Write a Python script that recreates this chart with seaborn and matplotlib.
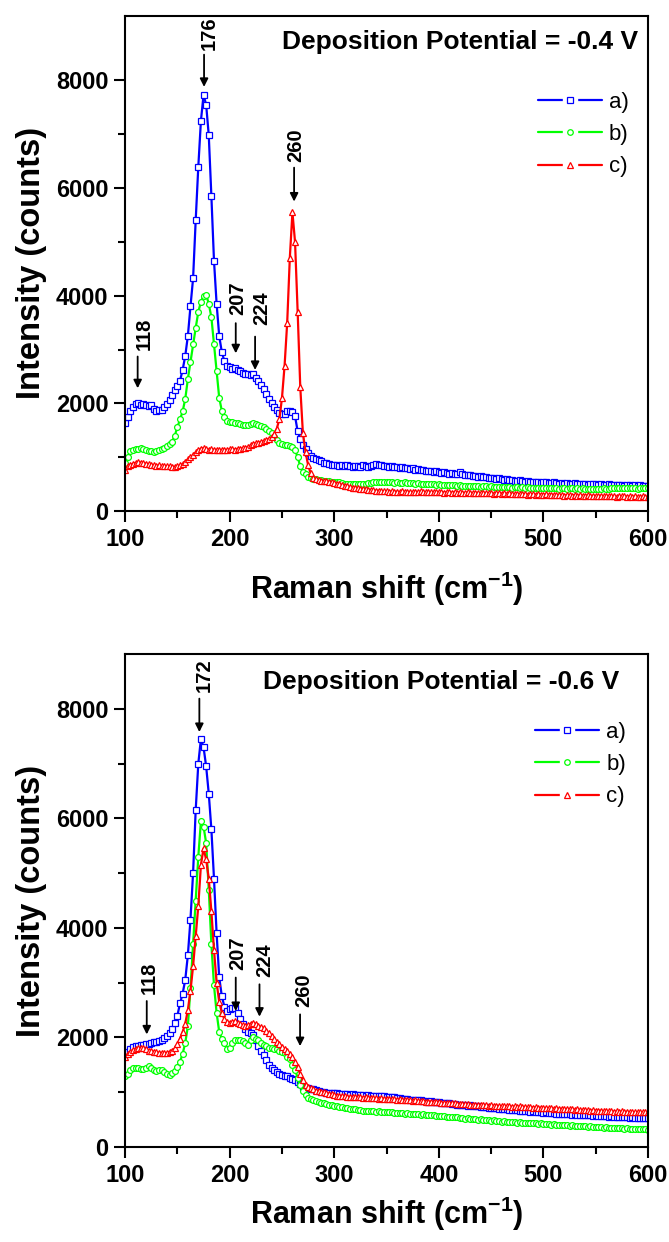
import numpy as np
import pandas as pd
import matplotlib
matplotlib.use("Agg")
import matplotlib.pyplot as plt
import seaborn as sns
from matplotlib.lines import Line2D
from matplotlib.legend_handler import HandlerTuple

# Raman shift sampling grid (cm^-1), 2.5 cm^-1 steps from 100 to 600
raman_shift = np.arange(100.0, 600.1, 2.5)

# ---------------- Panel 1 : deposition potential -0.4 V ----------------
top_a = [
    1640, 1750, 1850, 1930, 1990, 2000, 1960, 1990, 1970, 1950,
    1960, 1900, 1860, 1880, 1870, 1930, 1990, 2060, 2150, 2250,
    2330, 2420, 2620, 2880, 3250, 3800, 4320, 5400, 6400, 7250,
    7730, 7550, 6980, 5850, 4650, 3850, 3250, 2950, 2780, 2700,
    2680, 2640, 2660, 2620, 2600, 2560, 2540, 2550, 2530, 2540,
    2480, 2420, 2350, 2260, 2180, 2080, 2010, 1930, 1880, 1820,
    1800, 1810, 1850, 1860, 1830, 1760, 1480, 1340, 1230, 1160,
    1080, 1020, 980, 960, 950, 930, 900, 890, 880, 860,
    860, 850, 840, 855, 830, 845, 835, 820, 840, 830,
    825, 845, 830, 820, 835, 850, 870, 860, 845, 840,
    835, 820, 830, 815, 810, 800, 815, 790, 800, 785,
    790, 770, 780, 760, 765, 750, 740, 745, 730, 735,
    720, 710, 725, 700, 690, 700, 680, 690, 720, 680,
    670, 660, 665, 650, 655, 640, 645, 630, 640, 620,
    615, 620, 600, 610, 590, 580, 595, 575, 570, 565,
    560, 570, 550, 545, 560, 540, 535, 545, 530, 525,
    530, 540, 525, 520, 530, 515, 510, 525, 505, 515,
    510, 500, 515, 495, 510, 500, 505, 490, 505, 495,
    500, 485, 495, 490, 480, 495, 485, 475, 490, 480,
    485, 470, 480, 475, 465, 480, 470, 475, 460, 470,
    465,
]
top_b = [
    890, 1010, 1110, 1140, 1150, 1160, 1166, 1150, 1135, 1120,
    1105, 1100, 1110, 1135, 1150, 1170, 1200, 1240, 1290, 1400,
    1560, 1700, 1850, 2080, 2450, 2770, 3100, 3400, 3700, 3890,
    4000, 4020, 3850, 3600, 3100, 2600, 2100, 1860, 1750, 1680,
    1660, 1650, 1640, 1630, 1620, 1600, 1590, 1600, 1610, 1630,
    1620, 1600, 1580, 1560, 1530, 1490, 1440, 1380, 1320, 1270,
    1240, 1230, 1220, 1210, 1195, 1130, 1000, 830, 720, 680,
    640, 610, 600, 585, 575, 570, 560, 555, 550, 545,
    545, 540, 530, 520, 510, 500, 505, 495, 500, 505,
    495, 505, 510, 520, 525, 530, 535, 540, 530, 535,
    540, 530, 535, 525, 530, 520, 525, 530, 515, 520,
    525, 510, 515, 505, 510, 500, 505, 495, 500, 490,
    495, 485, 490, 480, 485, 475, 480, 470, 475, 470,
    465, 470, 460, 465, 455, 460, 450, 455, 460, 450,
    455, 445, 450, 440, 445, 450, 440, 445, 435, 440,
    445, 435, 440, 430, 440, 435, 425, 430, 435, 425,
    430, 420, 425, 430, 420, 425, 415, 420, 425, 415,
    420, 425, 415, 420, 410, 420, 415, 405, 415, 410,
    415, 405, 410, 420, 410, 415, 420, 430, 425, 435,
    430, 425, 435, 420, 430, 425, 415, 425, 420, 430,
    425,
]
top_c = [
    760, 830, 860, 880, 895, 905, 900, 890, 880, 870,
    860, 850, 840, 845, 835, 840, 830, 835, 825, 820,
    830, 845, 870, 910, 960, 1000, 1040, 1090, 1130, 1160,
    1165, 1150, 1140, 1145, 1135, 1140, 1130, 1135, 1140, 1135,
    1145, 1150, 1140, 1155, 1160, 1165, 1175, 1190, 1220, 1250,
    1260, 1270, 1280, 1300, 1320, 1340, 1370, 1430, 1530, 1700,
    2100, 2700, 3500, 4700, 5550, 5000, 3700, 2300, 1450, 1100,
    850, 700, 620, 590, 575, 565, 560, 550, 545, 535,
    525, 510, 495, 480, 470, 455, 445, 435, 430, 420,
    415, 410, 400, 395, 390, 385, 375, 380, 370, 365,
    370, 360, 365, 355, 360, 350, 365, 355, 360, 350,
    355, 360, 350, 365, 355, 350, 360, 345, 355, 350,
    345, 355, 340, 350, 345, 340, 350, 335, 345, 340,
    335, 345, 340, 330, 340, 335, 330, 340, 325, 335,
    330, 320, 335, 325, 320, 330, 315, 325, 320, 315,
    320, 310, 315, 320, 305, 315, 310, 300, 310, 305,
    300, 310, 295, 305, 300, 290, 300, 295, 285, 295,
    290, 285, 295, 280, 290, 285, 280, 290, 275, 285,
    280, 275, 285, 270, 280, 275, 270, 280, 265, 275,
    270, 275, 265, 270, 260, 270, 265, 260, 270, 265,
    265,
]

# ---------------- Panel 2 : deposition potential -0.6 V ----------------
bottom_a = [
    1690, 1740, 1790, 1820, 1840, 1850, 1860, 1870, 1875, 1880,
    1900, 1910, 1920, 1930, 1950, 1990, 2030, 2080, 2150, 2260,
    2400, 2620, 2800, 3050, 3500, 4150, 5000, 6150, 7000, 7450,
    7300, 6950, 6450, 5800, 4900, 3900, 3100, 2750, 2560, 2480,
    2520, 2540, 2530, 2450, 2330, 2240, 2160, 2100, 2080, 2040,
    1950, 1840, 1760, 1680, 1590, 1500, 1450, 1400, 1360, 1340,
    1320, 1300, 1290, 1260, 1240, 1220, 1180, 1150, 1100, 1080,
    1070, 1060, 1050, 1040, 1020, 1010, 1000, 990, 990, 985,
    980, 985, 970, 975, 960, 965, 955, 960, 950, 955,
    945, 950, 940, 945, 935, 940, 930, 935, 925, 930,
    920, 915, 905, 910, 895, 890, 880, 885, 870, 865,
    860, 865, 850, 855, 845, 840, 830, 835, 825, 820,
    815, 810, 805, 795, 800, 785, 780, 775, 770, 765,
    760, 755, 760, 745, 750, 740, 735, 730, 725, 720,
    715, 710, 705, 700, 695, 690, 685, 680, 675, 670,
    670, 660, 665, 655, 650, 645, 650, 640, 635, 630,
    625, 630, 620, 615, 620, 610, 605, 610, 600, 595,
    600, 590, 595, 585, 590, 580, 585, 575, 580, 570,
    575, 565, 570, 560, 565, 555, 560, 550, 555, 545,
    550, 540, 545, 535, 540, 530, 535, 525, 530, 525,
    530,
]
bottom_b = [
    1290, 1330, 1400, 1440, 1450, 1445, 1430, 1420, 1440, 1475,
    1450, 1400, 1380, 1410, 1400, 1360, 1330, 1320, 1350, 1390,
    1460, 1560, 1700, 1900, 2200, 2900, 3700, 4500, 5300, 5950,
    5850, 5550, 4700, 3700, 2950, 2450, 2100, 1980, 1900, 1790,
    1800, 1900, 1950, 1960, 1950, 1930, 1900, 1870, 1950, 2000,
    1980, 1960, 1900, 1870, 1840, 1810, 1800, 1790, 1780, 1760,
    1730, 1710, 1650, 1600, 1500, 1410, 1260, 1130, 1020, 950,
    900, 870, 850, 835, 820, 810, 800, 790, 775, 770,
    750, 740, 730, 725, 715, 705, 700, 690, 685, 675,
    670, 665, 660, 655, 660, 650, 645, 650, 640, 645,
    640, 630, 635, 625, 620, 625, 615, 610, 615, 605,
    600, 605, 595, 590, 595, 585, 580, 585, 575, 570,
    565, 570, 560, 555, 550, 545, 540, 545, 530, 525,
    520, 525, 515, 510, 505, 500, 505, 495, 490, 485,
    480, 485, 475, 470, 465, 470, 460, 455, 460, 450,
    445, 450, 440, 445, 435, 440, 430, 435, 425, 430,
    420, 425, 415, 410, 415, 405, 400, 405, 395, 400,
    390, 395, 385, 380, 385, 375, 380, 370, 375, 365,
    370, 360, 365, 355, 360, 350, 355, 345, 350, 340,
    345, 335, 340, 330, 335, 325, 330, 320, 325, 320,
    315,
]
bottom_c = [
    1650, 1700, 1740, 1770, 1790, 1800, 1810, 1800, 1780, 1760,
    1750, 1740, 1730, 1720, 1720, 1710, 1720, 1740, 1760, 1800,
    1880, 1980, 2100, 2250, 2500, 2850, 3300, 3850, 4400, 5150,
    5450, 5250, 4900, 4300, 3600, 3000, 2650, 2450, 2330, 2290,
    2270, 2280, 2300, 2260, 2240, 2220, 2200, 2230, 2250, 2270,
    2240, 2210, 2190, 2170, 2120, 2080, 2020, 1970, 1920, 1880,
    1830, 1790, 1750, 1700, 1650, 1560, 1460, 1330, 1220, 1130,
    1090, 1070, 1050, 1030, 1020, 1005, 995, 985, 970, 960,
    950, 940, 930, 935, 925, 920, 915, 920, 910, 905,
    910, 900, 905, 895, 900, 890, 895, 885, 890, 880,
    885, 875, 880, 870, 865, 870, 860, 855, 860, 850,
    845, 850, 840, 835, 840, 830, 825, 830, 820, 815,
    820, 810, 805, 810, 800, 795, 800, 790, 785, 790,
    780, 785, 775, 770, 775, 765, 770, 760, 765, 755,
    760, 750, 755, 745, 750, 745, 740, 745, 735, 740,
    735, 740, 730, 735, 725, 730, 720, 725, 715, 720,
    710, 715, 705, 710, 700, 705, 695, 700, 690, 695,
    685, 690, 680, 685, 675, 680, 670, 675, 665, 670,
    665, 660, 665, 655, 660, 650, 655, 645, 650, 645,
    650, 640, 645, 635, 640, 630, 640, 630, 635, 630,
    635,
]

series_labels = ["a)", "b)", "c)"]
series_colors = ["#0000FF", "#00FF00", "#FF0000"]
series_markers = ["s", "o", "^"]

panel_titles = ["Deposition Potential = -0.4 V", "Deposition Potential = -0.6 V"]
x_label = "Raman shift (cm$^{\\mathbf{-1}}$)"
y_label = "Intensity (counts)"
x_ticks = [100, 200, 300, 400, 500, 600]
y_ticks = [0, 2000, 4000, 6000, 8000]

# peak annotations: label, arrow x, arrow tip y, arrow tail y, text x, text y
top_peaks = [("118", 112, 2280, 2870, 118, 3000),
             ("176", 175.5, 7880, 8480, 180, 8560),
             ("207", 205.8, 2930, 3490, 208, 3650),
             ("224", 224.3, 2620, 3240, 231, 3460),
             ("260", 261.6, 5750, 6380, 263, 6480)]
bottom_peaks = [("118", 120.7, 2055, 2665, 123, 2800),
                ("172", 171, 7576, 8186, 175.5, 8300),
                ("207", 205.8, 2482, 3093, 207.6, 3230),
                ("224", 228.5, 2379, 2970, 233.8, 3100),
                ("260", 267.3, 1841, 2421, 270.5, 2560)]

for s in (top_a, top_b, top_c, bottom_a, bottom_b, bottom_c):
    if len(s) != len(raman_shift):
        raise ValueError(f"length {len(s)} != {len(raman_shift)}")

sns.set_theme(style="ticks")
plt.rcParams["font.family"] = ["Liberation Sans", "DejaVu Sans"]
plt.rcParams["mathtext.fontset"] = "custom"
plt.rcParams["mathtext.rm"] = "Liberation Sans:bold"
plt.rcParams["mathtext.bf"] = "Liberation Sans:bold"
plt.rcParams["mathtext.default"] = "bf"
for key in ("text.color", "axes.labelcolor", "xtick.color", "ytick.color", "axes.edgecolor"):
    plt.rcParams[key] = "black"

fig = plt.figure(figsize=(6.69, 12.42), dpi=100)
ax_top = fig.add_axes([0.187, 0.5886, 0.7816, 0.3986])
ax_bot = fig.add_axes([0.187, 0.0765, 0.7816, 0.3969])

panels = [
    (ax_top, [top_a, top_b, top_c], panel_titles[0], top_peaks, 9200,
     (0.981, 0.947), (0.963, 0.846), 14),
    (ax_bot, [bottom_a, bottom_b, bottom_c], panel_titles[1], bottom_peaks, 9000,
     (0.945, 0.943), (0.958, 0.862), 6),
]

for ax, series, title, peaks, ymax, title_pos, leg_pos, xpad in panels:
    handles = []
    for vals, lab, col, mk in zip(series, series_labels, series_colors, series_markers):
        df = pd.DataFrame({"shift": raman_shift, "intensity": vals})
        sns.lineplot(data=df, x="shift", y="intensity", ax=ax, color=col,
                     linewidth=1.6, marker=mk, markersize=4.2 if mk != "^" else 4.6,
                     markerfacecolor="white", markeredgecolor=col,
                     markeredgewidth=0.9, sort=False, estimator=None, legend=False)
        h = (Line2D([], [], color=col, lw=1.6),
             Line2D([], [], ls="none", marker="s", ms=10, mfc="white", mec="white"),
             Line2D([], [], ls="none", marker=mk, ms=4, mfc="white", mec=col, mew=0.9))
        handles.append(h)

    ax.set_xlim(100, 600)
    ax.set_ylim(0, ymax)
    ax.set_xticks(x_ticks)
    ax.set_yticks(y_ticks)
    ax.set_xticks(np.arange(150, 600, 100), minor=True)
    ax.set_yticks(np.arange(1000, 9000, 2000), minor=True)
    ax.tick_params(axis="both", which="major", direction="out", length=8, width=1.5,
                   labelsize=17, top=False, right=False, pad=4, colors="black")
    ax.tick_params(axis="both", which="minor", direction="out", length=5, width=1.5,
                   top=False, right=False, colors="black")
    for lbl in ax.get_xticklabels() + ax.get_yticklabels():
        lbl.set_fontweight("bold")
    for sp in ax.spines.values():
        sp.set_linewidth(1.5)
        sp.set_visible(True)
        sp.set_color("black")

    ax.set_xlabel(x_label, fontsize=22, fontweight="bold", labelpad=xpad)
    ax.set_ylabel(y_label, fontsize=23.5, fontweight="bold", labelpad=6)

    ax.text(title_pos[0], title_pos[1], title, transform=ax.transAxes,
            ha="right", va="center", fontsize=19, fontweight="bold")

    for lab, xa, tip, tail, xt, yt in peaks:
        ax.annotate("", xy=(xa, tip), xytext=(xa, tail),
                    arrowprops=dict(arrowstyle="-|>", color="black", lw=1.3,
                                    mutation_scale=12, shrinkA=0, shrinkB=0))
        ax.text(xt, yt, lab, rotation=90, ha="center", va="bottom",
                fontsize=14.5, fontweight="bold")

    ax.legend(handles, series_labels,
              handler_map={tuple: HandlerTuple(ndivide=1, pad=0.0)},
              loc="upper right", bbox_to_anchor=leg_pos, frameon=False,
              fontsize=16, handlelength=2.9, handletextpad=0.3, labelspacing=0.5,
              borderaxespad=0.0, borderpad=0.0)

fig.savefig("out.png", dpi=100)
